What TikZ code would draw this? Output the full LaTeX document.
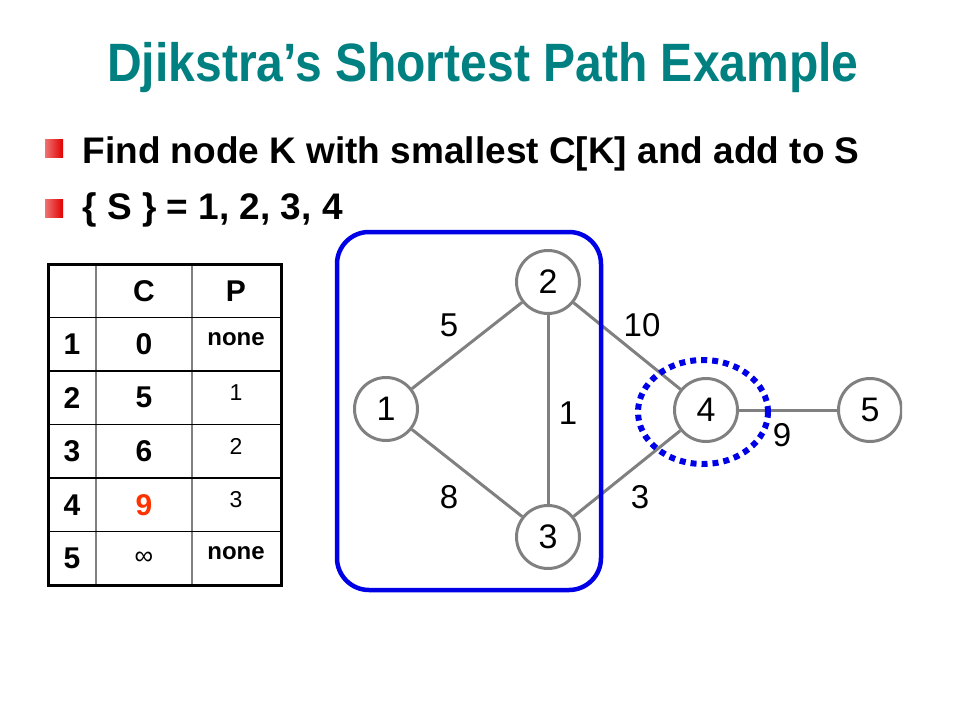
\documentclass[tikz,border=0pt]{standalone}
\usepackage{fontspec}
\setmainfont{Liberation Sans}
\usetikzlibrary{shapes.geometric}

\definecolor{titleteal}{RGB}{0,128,128}
\definecolor{boxblue}{RGB}{0,0,230}
\definecolor{vgray}{RGB}{128,128,128}
\definecolor{ninered}{RGB}{255,51,0}
\definecolor{bulletred}{RGB}{225,0,0}

\tikzset{
  vert/.style={circle, draw=vgray, line width=3pt, fill=white, minimum size=63pt, inner sep=0pt, font=\fontsize{34}{34}\selectfont},
  edge/.style={draw=vgray, line width=3pt},
  wlabel/.style={font=\fontsize{33}{33}\selectfont},
  bigcell/.style={font=\fontsize{30}{30}\selectfont\bfseries},
  smallcell/.style={font=\fontsize{23}{23}\selectfont},
  bullettext/.style={anchor=base west, font=\fontsize{37}{37}\selectfont\bfseries},
}

\begin{document}
\begin{tikzpicture}[x=1pt, y=-1pt]
\useasboundingbox (0,0) rectangle (960,720);

% title and bullets
\node[anchor=base, text=titleteal, font=\fontsize{54}{54}\selectfont\bfseries] (title) at (483,81) {\scalebox{0.89}[1]{Djikstra’s Shortest Path Example}};
\shade[left color=bulletred!55!white, right color=bulletred] (45,139) rectangle (63,157);
\shade[left color=bulletred!55!white, right color=bulletred] (45,199) rectangle (63,217);
\node[bullettext] (find) at (79,163) {Find node K with smallest C[K] and add to S};
\node[bullettext] (set) at (79,219) {\{ S \} = 1, 2, 3, 4};

% table
\draw[vgray, line width=1.5pt] (96,264) -- (96,585) (192,264) -- (192,585);
\foreach \y in {317.5,371,424.5,478,531.5}
  \draw[black, line width=1.5pt] (48,\y) -- (281,\y);
\draw[black, line width=3pt] (48,264) rectangle (281,585);
\node[bigcell] (hc) at (144,291) {C};
\node[bigcell] (hp) at (236,291) {P};
\foreach \c/\p [count=\i] in {0/{\fontsize{24}{24}\selectfont\bfseries none},
    5/1, 6/2, {\color{ninered}9}/3,
    {\mdseries\fontsize{26}{26}\selectfont ∞}/{\fontsize{24}{24}\selectfont\bfseries none}}
{
  \node[bigcell] (r\i) at (72,{264+53.5*\i+26.75}) {\i};
  \node[bigcell] (c\i) at (144,{264+53.5*\i+26.75}) {\c};
  \node[smallcell] (p\i) at (236,{264+53.5*\i+22}) {\p};
}

% graph
\node[vert] (n1) at (386,409) {1};
\node[vert] (n2) at (548,282) {2};
\node[vert] (n3) at (548,537) {3};
\node[vert] (n4) at (706,410) {4};
\begin{scope}
  \clip (0,0) rectangle (902,720);
  \node[vert] (n5) at (870,410) {5};
\end{scope}

\draw[edge] (n1) -- (n2);
\draw[edge] (n1) -- (n3);
\draw[edge] (n2) -- (n3);
\draw[edge] (n2) -- (n4);
\draw[edge] (n3) -- (n4);
\draw[edge] (n4) -- (n5);

\node[wlabel] (w12) at (449,325) {5};
\node[wlabel] (w24) at (642,325) {10};
\node[wlabel] (w23) at (568,413) {1};
\node[wlabel] (w13) at (449,497) {8};
\node[wlabel] (w34) at (640,497) {3};
\node[wlabel] (w45) at (782,435) {9};

\draw[boxblue, line width=4.5pt, rounded corners=32pt] (337,232) rectangle (601,590);
\node[ellipse, draw=boxblue, line width=6pt, dash pattern=on 6pt off 5pt, minimum width=130pt, minimum height=104pt] (sel) at (703,412) {};
\end{tikzpicture}
\end{document}
